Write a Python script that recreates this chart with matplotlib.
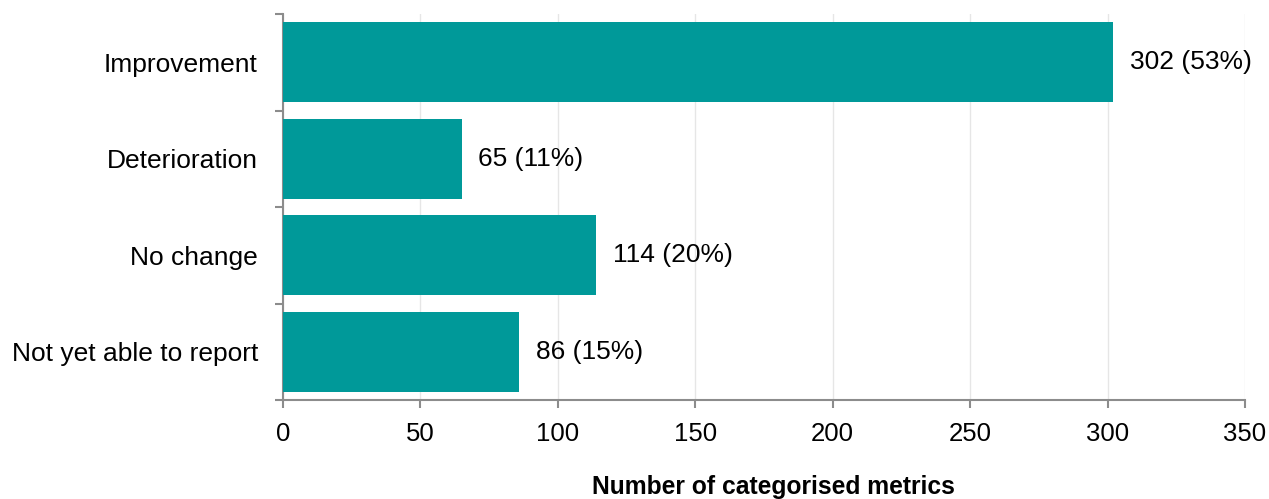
import matplotlib
matplotlib.use("Agg")
from matplotlib import pyplot as plt
import numpy as np

categories = ["Improvement", "Deterioration", "No change", "Not yet able to report"]
counts = [302, 65, 114, 86]
shares = [53, 11, 20, 15]
x_ticks = [0, 50, 100, 150, 200, 250, 300, 350]

BAR = "#009999"
AXIS = "#8c8c8c"

plt.rcParams["font.family"] = ["Liberation Sans", "DejaVu Sans"]

fig = plt.figure(figsize=(12.69, 4.99), dpi=100)
ax = fig.add_axes([283 / 1269, 1 - 400 / 499, (1245 - 283) / 1269, (400 - 14) / 499])

pos = np.arange(len(categories))
ax.barh(pos, counts, height=0.83, color=BAR, zorder=3)
for p, c, s in zip(pos, counts, shares):
    ax.annotate(f"{c} ({s}%)", (c, p), xytext=(12, 0), textcoords="offset points",
                va="center", ha="left", fontsize=19, color="black")

ax.set_xlim(0, 350)
ax.set_ylim(len(categories) - 0.5, -0.5)
ax.set_xticks(x_ticks)
ax.set_yticks(pos)
ax.set_yticklabels(categories)
ax.set_yticks(np.arange(len(categories) + 1) - 0.5, minor=True)
ax.tick_params(axis="y", which="major", length=0, pad=18, labelsize=19)
ax.tick_params(axis="y", which="minor", length=6, color=AXIS, width=1.5)
ax.tick_params(axis="x", length=6, color=AXIS, width=1.5, pad=10, labelsize=18.5)

ax.grid(axis="x", color="#e6e6e6", linewidth=1, zorder=0)
for side in ("top", "right"):
    ax.spines[side].set_visible(False)
for side in ("left", "bottom"):
    ax.spines[side].set_color(AXIS)
    ax.spines[side].set_linewidth(1.5)

ax.set_xlabel("Number of categorised metrics", fontsize=17.7, fontweight="bold")
ax.xaxis.set_label_coords(0.51, -0.225)
ax.xaxis.label.set_va("center")

fig.savefig("out.png", dpi=100)
